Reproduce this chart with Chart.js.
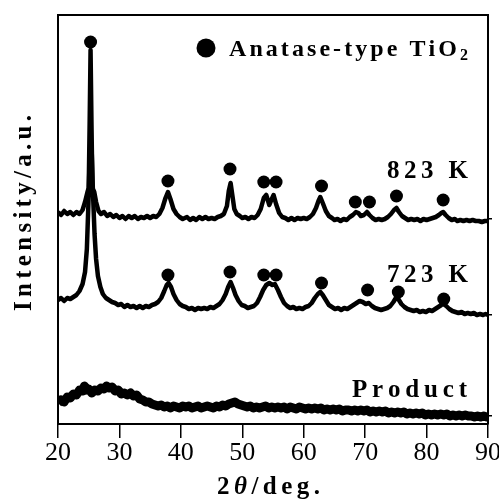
<!DOCTYPE html>
<html>
<head>
<meta charset="utf-8">
<script src="https://cdn.jsdelivr.net/npm/chart.js@4.4.1/dist/chart.umd.min.js"></script>
<style>
html,body{margin:0;padding:0;background:#fff;}
#wrap{width:499px;height:504px;position:relative;}
</style>
</head>
<body>
<div id="wrap"><canvas id="c" width="499" height="504"></canvas></div>
<script>
// ---- data (2θ in degrees, intensity in arbitrary units) ----
const xTicks = [20, 30, 40, 50, 60, 70, 80, 90];
const seriesLabels = ['823 K', '723 K', 'Product'];
const legendLabel = 'Anatase-type TiO';

const k823 = [[20,212],[20.5,209],[21,213],[21.5,210],[22,212],[22.5,209],[23,212],[23.5,210],[24,214],[24.4,222],[24.8,232],[25.0,236],[25.15,300],[25.3,374],[25.45,300],[25.6,236],[25.9,232],[26.2,222],[26.6,213],[27,210],[27.5,212],[28,208],[28.5,210],[29,207],[29.5,209],[30,206],[30.5,208],[31,205],[31.5,208],[32,206],[32.5,208],[33,205],[33.5,207],[34,206],[34.5,208],[35,206],[35.5,208],[36,207],[36.5,210],[37,216],[37.5,226],[37.9,232],[38.3,225],[38.8,215],[39.3,210],[39.8,207],[40.3,205],[41,207],[41.5,204],[42,206],[42.5,204],[43,207],[43.5,205],[44,207],[44.5,205],[45,206],[45.5,205],[46,207],[46.5,208],[47,210],[47.5,218],[47.8,233],[48.1,241],[48.4,228],[48.7,215],[49.1,210],[49.6,208],[50,206],[50.5,207],[51,205],[51.5,207],[52,206],[52.5,209],[53,215],[53.5,226],[53.9,229],[54.4,219],[54.8,225],[55.1,229],[55.5,220],[56,211],[56.5,207],[57,206],[57.5,204],[58,206],[58.5,204],[59,206],[59.5,205],[60,206],[60.5,205],[61,207],[61.5,210],[62,216],[62.4,223],[62.7,227],[63.1,221],[63.6,213],[64.1,208],[64.6,206],[65,204],[65.5,205],[66,203],[66.5,205],[67,204],[67.5,207],[68,209],[68.5,212],[68.9,211],[69.3,208],[69.8,209],[70.3,212],[70.7,209],[71.2,206],[71.7,204],[72.2,205],[72.7,204],[73.2,205],[73.7,207],[74.2,210],[74.7,214],[75.1,216],[75.5,212],[76,208],[76.5,206],[77,204],[77.5,205],[78,204],[78.5,205],[79,203],[79.5,205],[80,204],[80.5,205],[81,206],[81.5,207],[82,209],[82.4,211],[82.7,212],[83.1,209],[83.6,206],[84.1,204],[84.6,205],[85,203],[85.5,204],[86,203],[86.5,204],[87,203],[87.5,204],[88,203],[88.5,203],[89,202],[89.5,203],[90,203]];

const k723 = [[20,124],[20.5,126],[21,123],[21.5,126],[22,125],[22.5,127],[23,129],[23.5,133],[24,140],[24.4,152],[24.7,175],[24.95,220],[25.15,265],[25.3,285],[25.5,270],[25.7,230],[25.95,190],[26.2,165],[26.5,148],[26.9,137],[27.3,130],[27.8,126],[28.3,124],[28.8,122],[29.3,121],[29.8,119],[30.3,120],[30.8,117],[31.3,119],[31.8,117],[32.3,118],[32.8,116],[33.3,118],[33.8,116],[34.3,118],[34.8,117],[35.3,119],[35.8,120],[36.3,122],[36.8,126],[37.3,133],[37.7,139],[38.0,141],[38.4,137],[38.8,130],[39.3,124],[39.8,120],[40.3,118],[40.8,117],[41.3,115],[41.8,116],[42.3,114],[42.8,116],[43.3,115],[43.8,116],[44.3,115],[44.8,117],[45.3,116],[45.8,118],[46.3,120],[46.8,124],[47.3,130],[47.7,137],[48.1,142],[48.5,136],[48.9,129],[49.4,123],[49.9,119],[50.4,118],[50.9,116],[51.4,117],[51.9,118],[52.4,121],[52.9,127],[53.4,134],[53.9,139],[54.4,141],[54.9,139],[55.3,140],[55.8,134],[56.3,127],[56.8,121],[57.3,118],[57.8,116],[58.3,117],[58.8,115],[59.3,116],[59.8,115],[60.3,117],[60.8,118],[61.3,121],[61.8,126],[62.3,130],[62.7,132],[63.1,129],[63.6,124],[64.1,119],[64.6,117],[65.1,115],[65.6,116],[66.1,114],[66.6,116],[67.1,115],[67.6,117],[68.1,119],[68.6,121],[69.1,123],[69.6,122],[70.1,120],[70.6,121],[71.1,118],[71.6,116],[72.1,115],[72.6,114],[73.1,115],[73.6,116],[74.1,118],[74.6,122],[75.0,126],[75.4,125],[75.9,120],[76.4,117],[76.9,115],[77.4,114],[77.9,113],[78.4,114],[78.9,112],[79.4,113],[79.9,112],[80.4,114],[80.9,113],[81.4,115],[81.9,117],[82.4,119],[82.8,120],[83.2,118],[83.7,115],[84.2,113],[84.7,112],[85.2,111],[85.7,112],[86.2,110],[86.7,111],[87.2,110],[87.7,111],[88.2,109],[88.7,110],[89.2,109],[89.6,110],[90,109]];

const product = [[20,21],[20.5,24],[21,22],[21.5,27],[22,26],[22.5,30],[23,29],[23.5,34],[24,33],[24.3,38],[24.6,34],[25,35],[25.5,31],[26,34],[26.5,33],[27,36],[27.5,35],[27.9,38],[28.3,36],[28.8,37],[29.3,33],[29.8,34],[30.3,30],[30.8,31],[31.3,29],[31.8,31],[32.3,28],[32.8,29],[33.3,25],[33.8,24],[34.3,22],[34.8,22],[35.3,20],[35.8,19],[36.3,18],[36.8,19],[37.3,17],[37.8,18],[38.3,16],[38.8,18],[39.3,17],[39.8,16],[40.3,18],[40.8,17],[41.3,18],[41.8,16],[42.3,17],[42.8,18],[43.3,16],[43.8,17],[44.3,18],[44.8,17],[45.3,16],[45.8,18],[46.3,17],[46.8,19],[47.3,18],[47.8,20],[48.3,21],[48.8,22],[49.3,20],[49.8,19],[50.3,18],[50.8,17],[51.3,18],[51.8,16],[52.3,17],[52.8,16],[53.3,17],[53.8,18],[54.3,16],[54.8,17],[55.3,16],[55.8,17],[56.3,16],[56.8,17],[57.3,15],[57.8,17],[58.3,16],[58.8,15],[59.3,17],[59.8,16],[60.3,15],[60.8,16],[61.3,15],[61.8,16],[62.3,15],[62.8,16],[63.3,14],[63.8,15],[64.3,14],[64.8,15],[65.3,14],[65.8,15],[66.3,13],[66.8,14],[67.3,14],[67.8,13],[68.3,14],[68.8,13],[69.3,14],[69.8,13],[70.3,14],[70.8,12],[71.3,13],[71.8,12],[72.3,13],[72.8,12],[73.3,13],[73.8,11],[74.3,12],[74.8,11],[75.3,12],[75.8,11],[76.3,12],[76.8,10],[77.3,11],[77.8,10],[78.3,11],[78.8,10],[79.3,11],[79.8,9],[80.3,10],[80.8,9],[81.3,10],[81.8,9],[82.3,10],[82.8,9],[83.3,10],[83.8,8],[84.3,9],[84.8,8],[85.3,9],[85.8,8],[86.3,9],[86.8,8],[87.3,8],[87.8,7],[88.3,8],[88.8,7],[89.3,8],[89.8,7],[90,8]];

// anatase reflection markers (2θ, marker height)
const markers823 = [[25.3,382],[37.9,243],[48.0,255],[53.5,242],[55.5,242],[62.9,238],[68.4,222],[70.7,222],[75.1,228],[82.7,224]];
const markers723 = [[37.9,149],[48.0,152],[53.5,149],[55.5,149],[62.9,141],[70.4,134],[75.4,132],[82.8,125]];

// right-axis reference marks at each trace's baseline level
const baselineMarks = [205, 109, 8];

// ---- chart ----
const toXY = a => a.map(p => ({x: p[0], y: p[1]}));
const SERIF = '"Liberation Serif", "Times New Roman", serif';

function drawSpaced(ctx, parts, x, y, targetWidth) {
  const chars = [];
  parts.forEach(p => { for (const ch of p.t) chars.push({ch, font: p.font, dy: p.dy || 0}); });
  let natural = 0;
  chars.forEach(c => { ctx.font = c.font; c.w = ctx.measureText(c.ch).width; natural += c.w; });
  const sp = chars.length > 1 ? (targetWidth - natural) / (chars.length - 1) : 0;
  let cx = x;
  chars.forEach(c => { ctx.font = c.font; ctx.fillText(c.ch, cx, y + c.dy); cx += c.w + sp; });
}

const textPlugin = {
  id: 'texts',
  afterDraw(chart) {
    const ctx = chart.ctx;
    ctx.save();
    ctx.fillStyle = '#000';
    ctx.textBaseline = 'alphabetic';
    ctx.textAlign = 'left';
    const B = 'bold 25px ' + SERIF;
    const BL = 'bold 24px ' + SERIF;
    const Bs = 'bold 16px ' + SERIF;
    // legend
    ctx.beginPath(); ctx.arc(206, 48, 9.5, 0, Math.PI * 2); ctx.fill();
    drawSpaced(ctx, [{t: legendLabel, font: BL}, {t: '2', font: Bs, dy: 4}], 229, 56, 239);
    // series labels
    drawSpaced(ctx, [{t: seriesLabels[0], font: B}], 387, 178, 81);
    drawSpaced(ctx, [{t: seriesLabels[1], font: B}], 387, 282, 81);
    drawSpaced(ctx, [{t: seriesLabels[2], font: B}], 352, 397, 115);
    // x title
    drawSpaced(ctx, [{t: '2', font: B}, {t: 'θ', font: 'italic bold 25px ' + SERIF}, {t: '/deg.', font: B}], 217, 494, 103);
    // y title
    ctx.translate(31, 311);
    ctx.rotate(-Math.PI / 2);
    drawSpaced(ctx, [{t: 'Intensity/a.u.', font: 'bold 25px ' + SERIF}], 0, 0, 196);
    ctx.restore();
  }
};

const blk = '#000';
new Chart(document.getElementById('c'), {
  type: 'line',
  data: {
    datasets: [
      {label: seriesLabels[2], data: toXY(product), borderColor: blk, borderWidth: 9, pointRadius: 0, tension: 0, borderJoinStyle: 'round'},
      {label: seriesLabels[1], data: toXY(k723), borderColor: blk, borderWidth: 4.5, pointRadius: 0, tension: 0, borderJoinStyle: 'round'},
      {label: seriesLabels[0], data: toXY(k823), borderColor: blk, borderWidth: 4.5, pointRadius: 0, tension: 0, borderJoinStyle: 'round'},
      {type: 'scatter', label: 'm823', data: toXY(markers823), showLine: false, pointRadius: 6.5, pointBackgroundColor: blk, pointBorderWidth: 0},
      {type: 'scatter', label: 'm723', data: toXY(markers723), showLine: false, pointRadius: 6.5, pointBackgroundColor: blk, pointBorderWidth: 0}
    ]
  },
  options: {
    responsive: false,
    animation: false,
    layout: {padding: 0},
    plugins: {legend: {display: false}, tooltip: {enabled: false}},
    scales: {
      x: {
        type: 'linear', position: 'bottom', min: 20, max: 90,
        afterBuildTicks: s => { s.ticks = xTicks.map(v => ({value: v})); },
        ticks: {font: {family: SERIF, size: 26}, color: blk, padding: 0, maxRotation: 0, autoSkip: false},
        grid: {display: true, drawOnChartArea: false, drawTicks: true, tickLength: 14, color: blk, lineWidth: 1.5},
        border: {display: true, color: blk, width: 2},
        afterFit: s => { s.height = 80; s.paddingLeft = 0; s.paddingRight = 0; }
      },
      xTop: {
        type: 'linear', position: 'top', min: 20, max: 90,
        ticks: {display: false}, grid: {display: false, drawTicks: false},
        border: {display: true, color: blk, width: 2},
        afterFit: s => { s.height = 15; s.paddingLeft = 0; s.paddingRight = 0; }
      },
      y: {
        type: 'linear', position: 'left', min: 0, max: 409,
        ticks: {display: false}, grid: {display: false, drawTicks: false},
        border: {display: true, color: blk, width: 2},
        afterFit: s => { s.width = 58; s.paddingTop = 0; s.paddingBottom = 0; }
      },
      yRight: {
        type: 'linear', position: 'right', min: 0, max: 409,
        afterBuildTicks: s => { s.ticks = baselineMarks.map(v => ({value: v})); },
        ticks: {display: false},
        grid: {display: true, drawOnChartArea: false, drawTicks: true, tickLength: 4, color: blk, lineWidth: 1.5},
        border: {display: true, color: blk, width: 2},
        afterFit: s => { s.width = 11; s.paddingTop = 0; s.paddingBottom = 0; }
      }
    }
  },
  plugins: [textPlugin]
});
</script>
</body>
</html>
